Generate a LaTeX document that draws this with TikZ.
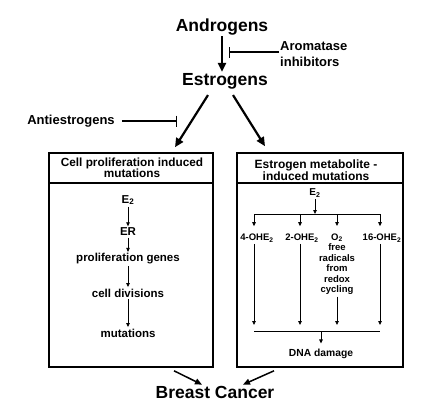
\documentclass[tikz,border=0pt]{standalone}
\usepackage{fontspec}
\setmainfont{Liberation Sans}
\usetikzlibrary{arrows.meta}

\begin{document}
\begin{tikzpicture}[x=1pt,y=-1pt,
	big/.style={font=\fontsize{17.5}{20}\selectfont\bfseries,inner sep=1pt},
	side/.style={font=\fontsize{13}{16}\selectfont\bfseries,inner sep=1pt,align=left},
	head/.style={font=\fontsize{11.8}{11.5}\selectfont\bfseries,align=center,inner sep=0pt},
	flow/.style={font=\fontsize{11.5}{13}\selectfont\bfseries,inner sep=1.5pt},
	meta/.style={font=\fontsize{9.5}{10.5}\selectfont\bfseries,inner sep=1.5pt,align=center},
	box/.style={draw,line width=1.6pt,minimum width=#1,minimum height=214pt,inner sep=0pt},
	mainarrow/.style={line width=2.2pt,-{Triangle[length=9pt,width=8pt]}},
	midarrow/.style={line width=1.5pt,-{Triangle[length=7pt,width=6pt]}},
	inhibit/.style={line width=1.3pt,-{Bar[width=11pt]}},
	thin/.style={line width=0.8pt,-{Triangle[length=4pt,width=3.5pt]}},
	plain/.style={line width=0.8pt}]
				\useasboundingbox (0,0) rectangle (423,415);
				% top of the pathway
				\node[big] (andro) at (222,27) {Androgens};
				\node[big] (estro) at (225,81) {Estrogens};
				\draw[mainarrow] (andro.south) -- (andro.south |- estro.north);
				\node[side,anchor=west] (aroma) at (279,54) {Aromatase\\inhibitors};
				\coordinate (aromabar) at (229,52);
				\draw[inhibit] (aroma.west |- aromabar) -- (aromabar);
				\node[side] (anti) at (71,121) {Antiestrogens};
				\coordinate (antibar) at (177,121);
				\draw[inhibit,shorten <=6pt] (anti.east) -- (antibar);
				% the two boxes
				\node[box=164pt] (cellbox) at (131,260) {};
				\node[box=166pt] (metabox) at (320,260) {};
				\draw[line width=1.6pt] (cellbox.west |- 0,183) -- (cellbox.east |- 0,183);
				\draw[line width=1.6pt] (metabox.west |- 0,183) -- (metabox.east |- 0,183);
				\node[head] (cellhead) at (132,168) {Cell proliferation induced\\mutations};
				\node[head,font=\fontsize{12}{11}\selectfont\bfseries] (metahead) at (316,170) {Estrogen metabolite -\\induced mutations};
				\draw[mainarrow] ([xshift=-17pt,yshift=-5pt]estro.south) -- ([xshift=44pt,yshift=5pt]cellbox.north);
				\draw[mainarrow] ([xshift=8pt,yshift=-5pt]estro.south) -- ([xshift=-55pt,yshift=6pt]metabox.north);
				% left box
				\node[flow] (e2a) at (128,200) {E\textsubscript{2}};
				\node[flow] (er) at (128,232) {ER};
				\node[flow] (genes) at (128,259) {proliferation genes};
				\node[flow] (div) at (128,293) {cell divisions};
				\node[flow] (mut) at (128,333) {mutations};
				\draw[thin] (e2a) -- (er);
				\draw[thin] (er) -- (genes);
				\draw[thin] (genes) -- (div);
				\draw[thin] (div) -- (mut);
				% right box
				\node[meta,font=\fontsize{10}{11}\selectfont\bfseries] (e2b) at (315,193) {E\textsubscript{2}};
				\coordinate (fork) at (315,214);
				\coordinate (f1) at (254,214);
				\coordinate (f2) at (300,214);
				\coordinate (f3) at (337,214);
				\coordinate (f4) at (380,214);
				\draw[thin] (e2b) -- (fork);
				\draw[plain] (f1) -- (f4);
				\node[meta] (oh4) at (257,238) {4-OHE\textsubscript{2}};
				\node[meta] (oh2) at (302,238) {2-OHE\textsubscript{2}};
				\node[meta,anchor=north] (rad) at (337,232) {O\textsubscript{2}\\free\\radicals\\from\\redox\\cycling};
				\node[meta] (oh16) at (382,238) {16-OHE\textsubscript{2}};
				\draw[thin,shorten >=6pt] (f1) -- (f1 |- oh4.north);
				\draw[thin,shorten >=6pt] (f2) -- (f2 |- oh2.north);
				\draw[thin,shorten >=6pt] (f3) -- (f3 |- rad.north);
				\draw[thin,shorten >=6pt] (f4) -- (f4 |- oh16.north);
				\coordinate (j1) at (254,331);
				\coordinate (j2) at (300,331);
				\coordinate (j3) at (337,331);
				\coordinate (j4) at (380,331);
				\coordinate (jmid) at (321,331);
				\draw[plain] (j1) -- (j4);
				\draw[thin,shorten >=6pt] (f1 |- oh4.south) -- (j1);
				\draw[thin,shorten >=6pt] (f2 |- oh2.south) -- (j2);
				\draw[thin,shorten >=6pt] (f3 |- rad.south) -- (j3);
				\draw[thin,shorten >=6pt] (f4 |- oh16.south) -- (j4);
				\node[meta,font=\fontsize{10.3}{12}\selectfont\bfseries] (dna) at (321,354) {DNA damage};
				\draw[thin,shorten >=4pt] (jmid) -- (dna.north);
				% outcome
				\node[big] (cancer) at (215,392) {Breast Cancer};
				\draw[midarrow] ([xshift=43pt,yshift=-3pt]cellbox.south) -- ([xshift=-13pt]cancer.north);
				\draw[midarrow] ([xshift=-46pt,yshift=-3pt]metabox.south) -- ([xshift=28pt]cancer.north);
			\end{tikzpicture}
\end{document}
